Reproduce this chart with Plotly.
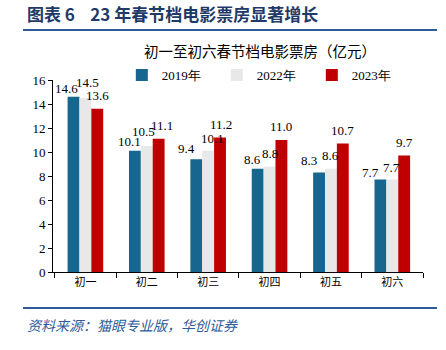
import plotly.graph_objects as go

categories = ["初一", "初二", "初三", "初四", "初五", "初六"]
v2019 = [14.6, 10.1, 9.4, 8.6, 8.3, 7.7]
v2022 = [14.5, 10.5, 10.1, 8.8, 8.6, 7.7]
v2023 = [13.6, 11.1, 11.2, 11.0, 10.7, 9.7]
series_names = ["2019年", "2022年", "2023年"]
colors = ["#17668F", "#E8E8E8", "#C00000"]
y_ticks = [0, 2, 4, 6, 8, 10, 12, 14, 16]

# label placement styling (pixel nudges, as in the reference)
bar_px = 11.9
label_dx = [[-7, -5, -10, -5, -10, -10],
            [2, -3, 4, 0, 0, -1],
            [0, 3, 1, 0, 0, 0]]
label_gap = [[3, 4, 5, 4, 6, 2],
             [10, 9, 7, 7, 8, 7],
             [8, 8, 8, 8, 8, 8]]

serif = "Liberation Serif, Times New Roman, serif"
cjk = "Noto Sans CJK SC"

fig = go.Figure()
series = [v2019, v2022, v2023]
for name, vals, col in zip(series_names, series, colors):
    fig.add_trace(go.Bar(
        x=categories, y=vals, name=name,
        marker=dict(color=col, line=dict(width=0)),
    ))

for si, vals in enumerate(series):
    for ci, (cat, v) in enumerate(zip(categories, vals)):
        fig.add_annotation(
            x=cat, y=v, xref="x", yref="y", text=f"{v:.1f}", showarrow=False,
            xanchor="center", yanchor="bottom",
            xshift=(si - 1) * bar_px + label_dx[si][ci],
            yshift=label_gap[si][ci] - 4,
            font=dict(family=serif, size=13, color="#000000"),
        )

fig.update_layout(
    width=446, height=350,
    margin=dict(l=53, r=23, t=80, b=78),
    paper_bgcolor="white", plot_bgcolor="white",
    barmode="group", bargap=0.42, bargroupgap=0,
    showlegend=True,
    legend=dict(orientation="h", x=0.186, y=1.026, xanchor="left", yanchor="middle",
                entrywidth=50, entrywidthmode="pixels", traceorder="normal",
                font=dict(family=serif, size=13, color="#000000"),
                itemwidth=30, bgcolor="rgba(0,0,0,0)"),
    xaxis=dict(showline=True, linecolor="#000000", linewidth=1,
               ticks="outside", tickson="boundaries", ticklen=5, tickcolor="#000000",
               tickfont=dict(family=cjk, size=11, color="#000000"),
               showgrid=False),
    yaxis=dict(range=[0, 16], tickvals=y_ticks, showline=True, linecolor="#000000",
               linewidth=1, ticks="outside", ticklen=4, tickcolor="#000000",
               tickfont=dict(family=serif, size=13, color="#000000"),
               showgrid=False, zeroline=False),
)

nb = "\u00a0"
fig.add_annotation(text=f"<b>图表{nb}6{nb*4}23{nb}年春节档电影票房显著增长</b>", xref="paper", yref="paper",
                   x=-0.076, y=1.344, xanchor="left", yanchor="middle", showarrow=False,
                   font=dict(family=cjk, size=17, color="#1F3A68"))
fig.add_annotation(text="初一至初六春节档电影票房（亿元）", xref="paper", yref="paper",
                   x=0.56, y=1.156, xanchor="center", yanchor="middle", showarrow=False,
                   font=dict(family=cjk, size=14.5, color="#000000"))
fig.add_annotation(text="<i>资料来源：猫眼专业版，华创证券</i>", xref="paper", yref="paper",
                   x=-0.076, y=-0.276, xanchor="left", yanchor="middle", showarrow=False,
                   font=dict(family=cjk, size=14, color="#2E5C9A"))
fig.add_shape(type="line", xref="paper", yref="paper", x0=-0.081, x1=1.038, y0=1.26, y1=1.26,
              line=dict(color="#2E5C9A", width=2))
fig.add_shape(type="line", xref="paper", yref="paper", x0=-0.081, x1=1.038, y0=-0.1875, y1=-0.1875,
              line=dict(color="#2E5C9A", width=2))

fig.write_html("out.html")
